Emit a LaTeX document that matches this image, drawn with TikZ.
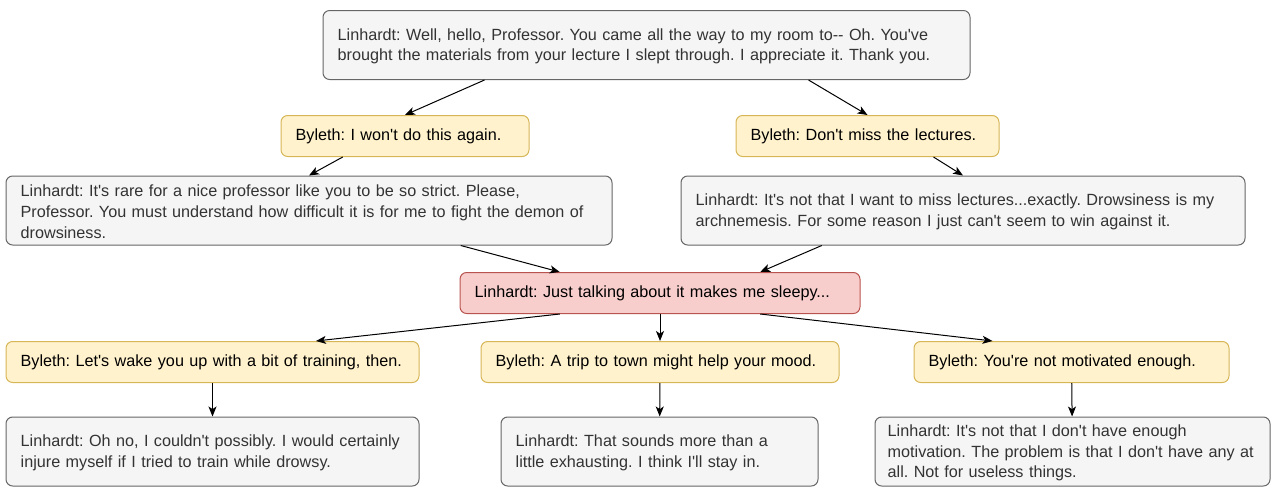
\documentclass[tikz,border=0pt]{standalone}
\usepackage{fontspec}
\newfontfamily\dlgfont{Liberation Sans}
\usetikzlibrary{calc,arrows.meta}
\definecolor{linfill}{HTML}{F5F5F5}
\definecolor{linline}{HTML}{666666}
\definecolor{lintext}{HTML}{333333}
\definecolor{bylfill}{HTML}{FFF2CC}
\definecolor{bylline}{HTML}{D6B656}
\definecolor{sleepfill}{HTML}{F8CECC}
\definecolor{sleepline}{HTML}{B85450}
\tikzset{
	dlgbox/.style={rounded corners=5pt, line width=0.75pt, align=left, inner xsep=11pt, inner ysep=0pt, font=\dlgfont\frenchspacing\fontsize{12.15}{15.5}\selectfont, execute at begin node=\strut},
	linbox/.style={dlgbox, draw=linline, fill=linfill, text=lintext, minimum height=51.75pt},
	bylbox/.style={dlgbox, draw=bylline, fill=bylfill, text=black, minimum height=30.75pt},
	sleepbox/.style={dlgbox, draw=sleepline, fill=sleepfill, text=black, minimum height=30.75pt},
	edge/.style={line width=0.75pt, -{Stealth[length=7.5pt,width=6pt,inset=2pt]}}
}

\begin{document}
\begin{tikzpicture}[x=0.75pt, y=-0.75pt]
			%%%%% START %%%%%
			\useasboundingbox (0, 0) rectangle (1282, 496);
			
			\node[linbox, text width=463.25pt] (visit) at (646.5, 45) {Linhardt: Well, hello, Professor. You came all the way to my room to-{}- Oh. You've\\brought the materials from your lecture I slept through. I appreciate it. Thank you.};
			
			\node[bylbox, text width=164pt] (again) at (405, 136) {Byleth: I won't do this again.};
			\node[bylbox, text width=175.25pt] (miss) at (867.5, 136) {Byleth: Don't miss the lectures.};
			
			\node[linbox, text width=432.5pt] (strict) at (309, 210.5) {Linhardt: It's rare for a nice professor like you to be so strict. Please,\\Professor. You must understand how difficult it is for me to fight the demon of\\drowsiness.};
			\node[linbox, text width=401pt] (nemesis) at (963, 210.5) {Linhardt: It's not that I want to miss lectures...exactly. Drowsiness is my\\archnemesis. For some reason I just can't seem to win against it.};
			
			\node[sleepbox, text width=278pt] (sleepy) at (660, 293) {Linhardt: Just talking about it makes me sleepy...};
			
			\node[bylbox, text width=287.75pt] (train) at (212.5, 362) {Byleth: Let's wake you up with a bit of training, then.};
			\node[bylbox, text width=246.5pt] (town) at (660, 362) {Byleth: A trip to town might help your mood.};
			\node[bylbox, text width=214.25pt] (motiv) at (1071.5, 362) {Byleth: You're not motivated enough.};
			
			\node[linbox, text width=287.75pt] (injure) at (212.5, 451.5) {Linhardt: Oh no, I couldn't possibly. I would certainly\\injure myself if I tried to train while drowsy.};
			\node[linbox, text width=215.75pt] (stayin) at (659.5, 451.5) {Linhardt: That sounds more than a\\little exhausting. I think I'll stay in.};
			\node[linbox, inner xsep=9.5pt, text width=277.25pt] (useless) at (1072.5, 451.5) {Linhardt: It's not that I don't have enough\\motivation. The problem is that I don't have any at\\all. Not for useless things.};
			
			\draw[edge] ($(visit.south west)!0.25!(visit.south east)$) -- (again.north);
			\draw[edge] ($(visit.south west)!0.75!(visit.south east)$) -- (miss.north);
			\draw[edge] ($(again.south west)!0.25!(again.south east)$) -- (strict.north);
			\draw[edge] ($(miss.south west)!0.75!(miss.south east)$) -- (nemesis.north);
			\draw[edge] ($(strict.south west)!0.75!(strict.south east)$) -- ($(sleepy.north west)!0.25!(sleepy.north east)$);
			\draw[edge] ($(nemesis.south west)!0.25!(nemesis.south east)$) -- ($(sleepy.north west)!0.75!(sleepy.north east)$);
			\draw[edge] ($(sleepy.south west)!0.25!(sleepy.south east)$) -- ($(train.north west)!0.75!(train.north east)$);
			\draw[edge] (sleepy.south) -- (town.north);
			\draw[edge] ($(sleepy.south west)!0.75!(sleepy.south east)$) -- ($(motiv.north west)!0.25!(motiv.north east)$);
			\draw[edge] (train) -- (injure);
			\draw[edge] (town) -- (stayin);
			\draw[edge] (motiv) -- (useless);
			
			%%%%% END %%%%%
		\end{tikzpicture}
\end{document}
